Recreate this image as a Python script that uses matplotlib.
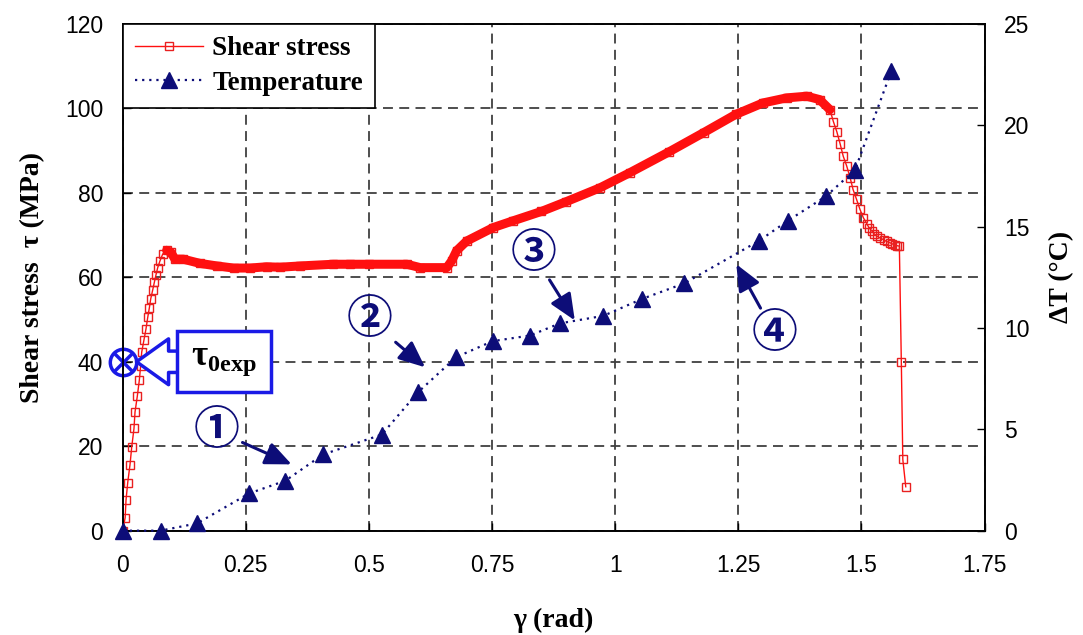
import numpy as np
import matplotlib
matplotlib.use("Agg")
from matplotlib import pyplot as plt
from matplotlib.font_manager import FontProperties

plt.rcParams['font.family'] = ['Liberation Sans', 'DejaVu Sans']
plt.rcParams['mathtext.fontset'] = 'custom'
plt.rcParams['mathtext.bf'] = 'Liberation Serif:bold'
plt.rcParams['mathtext.rm'] = 'Liberation Serif'

# shear stress curve
gamma_rise = [0, 0.005, 0.0067, 0.0102, 0.0148, 0.0183, 0.0229, 0.025, 0.0296,
              0.0337, 0.0365, 0.0386, 0.0432, 0.0473, 0.0508, 0.054, 0.0569,
              0.0609, 0.0642, 0.0676, 0.0711, 0.0757, 0.0812]
tau_rise = [0, 3.1, 7.2, 11.4, 15.6, 19.8, 24.2, 28.1, 31.8, 35.6, 39.1, 42.3,
            45.2, 47.8, 50.5, 52.7, 54.9, 57.0, 58.8, 60.6, 62.3, 63.9, 65.5]
gamma_band = [0.0893, 0.098, 0.106, 0.123, 0.157, 0.191, 0.225, 0.2585, 0.292,
              0.3194, 0.361, 0.4276, 0.4615, 0.50, 0.577, 0.604, 0.658, 0.668,
              0.678, 0.6985, 0.7525, 0.793, 0.85, 0.90, 0.969, 1.03, 1.109,
              1.18, 1.245, 1.30, 1.348, 1.389, 1.415, 1.436]
tau_band = [66.4, 65.9, 64.3, 64.3, 63.3, 62.7, 62.2, 62.2, 62.5, 62.4, 62.7,
            63.1, 63.1, 63.1, 63.1, 62.3, 62.3, 63.9, 66.3, 68.6, 71.8, 73.4,
            75.6, 77.9, 81.2, 84.8, 89.7, 94.3, 98.6, 101.3, 102.5, 102.9,
            102.1, 99.7]
gamma_fall = [1.443, 1.450, 1.457, 1.463, 1.470, 1.477, 1.483, 1.490, 1.497,
              1.504, 1.511, 1.515, 1.521, 1.526, 1.531, 1.538, 1.545, 1.551,
              1.558, 1.563, 1.568, 1.572, 1.577, 1.581, 1.584, 1.590]
tau_fall = [96.9, 94.5, 91.5, 88.7, 86.4, 83.6, 80.8, 78.5, 76.1, 74.1, 72.7,
            71.8, 71.0, 70.3, 69.8, 69.3, 68.9, 68.5, 68.2, 67.9, 67.7, 67.5,
            67.4, 40.0, 16.9, 10.4]

# temperature rise
gamma_temp = [0, 0.077, 0.151, 0.257, 0.330, 0.407, 0.526, 0.600, 0.677, 0.751,
              0.827, 0.888, 0.976, 1.054, 1.140, 1.292, 1.351, 1.428, 1.487,
              1.561]
temp = [0, 0, 0.36, 1.84, 2.46, 3.76, 4.74, 6.84, 8.56, 9.35, 9.63, 10.23,
        10.6, 11.43, 12.2, 14.3, 15.3, 16.5, 17.8, 22.7]

tau0exp = 40

# numbered callouts: label, text position, arrow tip (in MPa units)
callouts = [('①', (0.191, 23.6), (0.343, 15.7)),
            ('②', (0.502, 49.8), (0.614, 38.7)),
            ('③', (0.834, 65.5), (0.918, 49.8)),
            ('④', (1.324, 46.6), (1.246, 63.1))]

red = '#ff1010'
navy = '#0d0d78'
blue = '#1a1ae6'
serif_bold = dict(family='Liberation Serif', weight='bold')

fig = plt.figure(figsize=(10.83, 6.35), dpi=100)
ax = fig.add_axes([0.1133, 0.1643, 0.7958, 0.7979])
ax2 = ax.twinx()

gamma_all = gamma_rise + gamma_band + gamma_fall
tau_all = tau_rise + tau_band + tau_fall
shear, = ax.plot(gamma_all, tau_all, color=red, lw=1, marker='s', ms=5.5,
                 mfc='none', mec='#e82020', mew=1, label='Shear stress')
# the markers are so dense here that they merge into one thick band
ax.plot(gamma_band, tau_band, color=red, lw=6.5, solid_capstyle='round',
        solid_joinstyle='round')

temp_line, = ax2.plot(gamma_temp, temp, color=navy, lw=1.6, ls=(0, (1, 2.2)),
                      marker='^', ms=12, mfc=navy, mec=navy,
                      label='Temperature', clip_on=False, zorder=5)

ax.set_xlim(0, 1.75)
ax.set_ylim(0, 120)
ax2.set_ylim(0, 25)
ax.set_xticks(np.arange(0, 1.76, 0.25))
ax.set_xticklabels(['0', '0.25', '0.5', '0.75', '1', '1.25', '1.5', '1.75'])
ax.set_yticks(np.arange(0, 121, 20))
ax2.set_yticks(np.arange(0, 26, 5))

ax.grid(True, ls=(0, (5.5, 3.5)), color='#404040', lw=1.3)
for a in (ax, ax2):
    a.tick_params(direction='in', length=6, width=1, labelsize=16.5, pad=14)
    for s in a.spines.values():
        s.set_linewidth(1.2)
ax.tick_params(axis='x', pad=17)

ax.set_xlabel('γ (rad)', fontsize=20, labelpad=22, **serif_bold)
ax.set_ylabel('Shear stress  τ (MPa)', fontsize=20, labelpad=14, **serif_bold)
ax2.set_ylabel('ΔT (°C)', fontsize=20, labelpad=14, **serif_bold)

# tau_0exp marker and callout
ax.plot([0], [tau0exp], marker='o', ms=19, mfc='none', mec=blue, mew=2.5,
        clip_on=False, zorder=10)
ax.plot([0], [tau0exp], marker='x', ms=13, mec=blue, mew=2.5, clip_on=False,
        zorder=10)
ax.annotate('', xy=(0.028, tau0exp), xytext=(0.118, tau0exp),
            arrowprops=dict(arrowstyle='simple,head_length=1.05,head_width=1.5,'
                                       'tail_width=0.7',
                            fc='white', ec=blue, lw=2.5, shrinkA=0, shrinkB=0,
                            mutation_scale=22), zorder=9)
ax.text(0.206, tau0exp, r'$\mathbf{\tau}_{\mathbf{0exp}}$', fontsize=25,
        ha='center', va='center', zorder=11,
        bbox=dict(boxstyle='square,pad=0.4', fc='white', ec=blue, lw=2.5))

for label, pos, tip in callouts:
    ax2.annotate(label, xy=(tip[0], tip[1] * 25 / 120),
                 xytext=(pos[0], pos[1] * 25 / 120),
                 fontsize=33, color=navy, ha='center', va='center',
                 family=['Noto Sans CJK JP', 'DejaVu Sans'], weight='bold',
                 arrowprops=dict(arrowstyle='-|>,head_length=0.8,head_width=0.35',
                                 color=navy, lw=2.2, mutation_scale=20,
                                 shrinkA=0, shrinkB=0), zorder=6)

leg = ax2.legend([shear, temp_line], ['Shear stress', 'Temperature'],
                 loc='upper left', bbox_to_anchor=(0, 1), borderaxespad=0,
                 fancybox=False, edgecolor='black', framealpha=1,
                 handlelength=2.5, handletextpad=0.35, labelspacing=0.35,
                 borderpad=0.45,
                 prop=FontProperties(size=19.5, **serif_bold))
leg.get_frame().set_linewidth(1.2)
leg.set_zorder(20)

plt.savefig('out.png', dpi=100)
